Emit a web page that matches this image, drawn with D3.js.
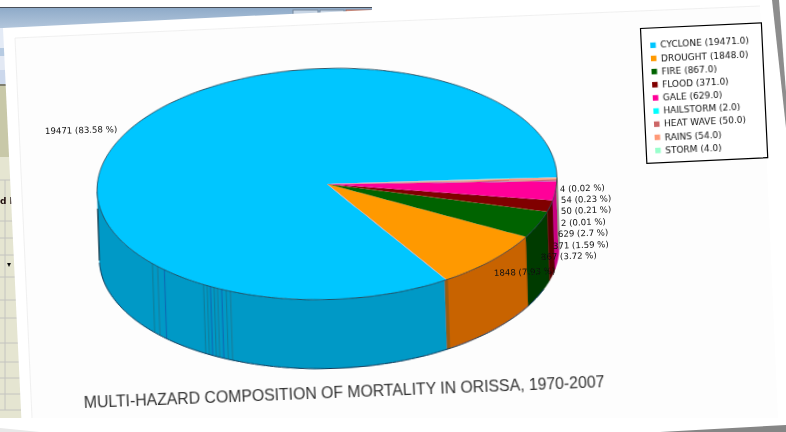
<!DOCTYPE html>
<html>
<head>
<meta charset="utf-8">
<style>
html, body { margin: 0; padding: 0; background: #fff; overflow: hidden; }
text { font-family: "DejaVu Sans", sans-serif; }
</style>
<script src="https://cdn.jsdelivr.net/npm/d3@7"></script>
</head>
<body>
<div id="chart"></div>
<script>
const categories = ['CYCLONE', 'DROUGHT', 'FIRE', 'FLOOD', 'GALE', 'HAILSTORM', 'HEAT WAVE', 'RAINS', 'STORM'];
const deaths = [19471, 1848, 867, 371, 629, 2, 50, 54, 4];
const percents = ['83.58', '7.93', '3.72', '1.59', '2.7', '0.01', '0.21', '0.23', '0.02'];
const topColors = ['#00c6ff', '#ff9900', '#006400', '#800000', '#ff0099', '#00ffff', '#cc6666', '#ff9977', '#99ffcc'];
const sideColors = ['#0099c6', '#c86400', '#003a00', '#560000', '#c80080', '#00c8c8', '#a04f4f', '#c87a5f', '#7ac8a0'];

// streaks on the cyclone wall, degrees clockwise from north
const streakAngles = [230.4, 228.4, 226, 213.4, 212.4, 211.4, 210.4, 209.4, 208.2, 207, 205.8];

const title = 'MULTI-HAZARD COMPOSITION OF MORTALITY IN ORISSA, 1970-2007';

const width = 786,
    height = 432,
    cx = 327,
    cy = 184,
    rx = 230,
    ry = 115.5,
    depth = 69,
    tilt = -1.9;

const rad = d3.scaleLinear().domain([0, 360]).range([0, 2 * Math.PI]);

const svg = d3.select('#chart')
    .append('svg')
    .attr('width', width)
    .attr('height', height);

const defs = svg.append('defs');
defs.append('filter').attr('id', 'soft')
    .append('feGaussianBlur').attr('stdDeviation', 0.3);
const header = defs.append('linearGradient').attr('id', 'header')
    .attr('x1', 0).attr('x2', 0).attr('y1', 0).attr('y2', 1);
header.append('stop').attr('offset', 0).attr('stop-color', '#8fabc9');
header.append('stop').attr('offset', 1).attr('stop-color', '#b9cbdf');

const polygon = (g, points, fill) => g.append('polygon')
    .attr('points', points.map(p => p.join(',')).join(' '))
    .attr('fill', fill);

// screenshot of the window lying behind the page
const backdrop = svg.append('g').attr('filter', 'url(#soft)');
backdrop.append('rect').attr('x', 0).attr('y', 7).attr('width', 372).attr('height', 1.5).attr('fill', '#4a5058');
backdrop.append('rect').attr('x', 0).attr('y', 8).attr('width', 372).attr('height', 24).attr('fill', 'url(#header)');
backdrop.append('rect').attr('x', 293).attr('y', 10).attr('width', 25).attr('height', 6).attr('fill', '#c8d6e6').attr('stroke', '#77889c');
backdrop.append('rect').attr('x', 320).attr('y', 10).attr('width', 24).attr('height', 6).attr('fill', '#c8d6e6').attr('stroke', '#77889c');
backdrop.append('rect').attr('x', 346).attr('y', 10).attr('width', 25).attr('height', 6).attr('fill', '#eba593').attr('stroke', '#a06a60');
backdrop.append('rect').attr('x', 0).attr('y', 28).attr('width', 20).attr('height', 20).attr('fill', '#e4ebf6');
backdrop.append('rect').attr('x', 0).attr('y', 48).attr('width', 20).attr('height', 8).attr('fill', '#b7cbe2');
backdrop.append('rect').attr('x', 0).attr('y', 56).attr('width', 20).attr('height', 14).attr('fill', '#e3e9f4');
backdrop.append('rect').attr('x', 0).attr('y', 70).attr('width', 20).attr('height', 14).attr('fill', '#ccd8ec');
backdrop.append('rect').attr('x', 0).attr('y', 84).attr('width', 20).attr('height', 2).attr('fill', '#7f7f70');
backdrop.append('rect').attr('x', 0).attr('y', 86).attr('width', 20).attr('height', 71).attr('fill', '#c8c8a8');
backdrop.append('rect').attr('x', 0).attr('y', 157).attr('width', 22).attr('height', 261).attr('fill', '#e5e5d1');
backdrop.append('g').selectAll('line')
    .data([180, 221, 238, 255, 277, 300, 318, 343, 362, 378, 394, 410])
    .join('line')
    .attr('x1', 0).attr('x2', 22).attr('y1', d => d).attr('y2', d => d)
    .attr('stroke', '#c4c4c0');
backdrop.append('line').attr('x1', 5).attr('x2', 5).attr('y1', 180).attr('y2', 410).attr('stroke', '#c4c4c0');
backdrop.append('text').attr('x', 0).attr('y', 204).attr('font-size', 9).attr('font-weight', 'bold').attr('fill', '#201010').text('d I');
backdrop.append('text').attr('x', 7).attr('y', 267).attr('font-size', 8).attr('font-weight', 'bold').attr('fill', '#111').text('▾');

// the page itself, photographed a little askew
polygon(svg, [[3, 28], [575, 0], [786, 0], [786, 432], [22, 432]], '#ffffff');
polygon(svg, [[15, 38], [760, 6], [778, 418], [32, 418]], '#fdfdfd');
svg.append('path')
    .attr('d', 'M32,418 L15,38 L372,22 L760,6')
    .attr('fill', 'none')
    .attr('stroke', '#ececec')
    .attr('stroke-width', 0.8);
polygon(svg, [[772, 0], [779, 0], [786, 92], [786, 128]], '#8d8d8d');
polygon(svg, [[660, 432], [786, 425], [786, 432]], '#868686');
polygon(svg, [[0, 428], [40, 432], [0, 432]], '#e8e8e8');

const startDeg = 90.5;
const slices = d3.pie()
    .sort(null)
    .value(d => d)
    .startAngle(rad(startDeg))
    .endAngle(rad(startDeg - 360))(deaths);

const ellipseX = a => rx * Math.sin(a),
    ellipseY = a => -ry * Math.cos(a);

const plot = svg.append('g')
    .attr('transform', `translate(${cx},${cy}) rotate(${tilt})`)
    .attr('filter', 'url(#soft)');

const rimLine = d3.line().x(d => ellipseX(d)).y(d => ellipseY(d));

// wall between two angles, only the front half of the disc shows
const wallPath = (a0, a1) => {
    const from = Math.max(Math.min(a0, a1), rad(90)),
        to = Math.min(Math.max(a0, a1), rad(270));
    if (to <= from) return null;
    const steps = d3.range(from, to, rad(1)).concat([to]);
    const top = steps.map(a => [ellipseX(a), ellipseY(a)]),
        bottom = steps.slice().reverse().map(a => [ellipseX(a), ellipseY(a) + depth]);
    return d3.line()(top.concat(bottom)) + 'Z';
};

// d3.pie runs anticlockwise here, so fold the angles back into 0..360
const wrap = a => (a < 0 ? a + 2 * Math.PI : a);
const walls = slices.map((s, i) => {
    let a0 = wrap(s.endAngle), a1 = wrap(s.startAngle);
    if (a0 > a1) a1 += 2 * Math.PI;
    return { d: wallPath(a0, a1), fill: sideColors[i] };
}).filter(d => d.d);

plot.append('g').selectAll('path')
    .data(walls)
    .join('path')
    .attr('d', d => d.d)
    .attr('fill', d => d.fill)
    .attr('stroke', d => d.fill)
    .attr('stroke-width', 0.4);

plot.append('g').selectAll('line')
    .data(streakAngles)
    .join('line')
    .attr('x1', d => ellipseX(rad(d)))
    .attr('x2', d => ellipseX(rad(d)))
    .attr('y1', d => ellipseY(rad(d)))
    .attr('y2', d => ellipseY(rad(d)) + depth)
    .attr('stroke', (d, i) => (i % 3 === 2 ? '#0a6cb4' : '#0f7f9e'))
    .attr('stroke-width', 1.2);

// darker edge where the drought wall meets the cyclone wall
plot.append('path')
    .attr('d', wallPath(rad(149.2), rad(150.2)))
    .attr('fill', '#9a5a10');

// front and left outline of the wall
plot.append('path')
    .attr('d', d3.line().x(d => ellipseX(d)).y(d => ellipseY(d) + depth)(d3.range(rad(112), rad(270), rad(1))))
    .attr('fill', 'none')
    .attr('stroke', '#123a5a')
    .attr('stroke-width', 1);
plot.append('line')
    .attr('x1', ellipseX(rad(270))).attr('x2', ellipseX(rad(270)))
    .attr('y1', 17).attr('y2', depth)
    .attr('stroke', '#0c2c3c')
    .attr('stroke-width', 1.2);

// top face: circular arcs squeezed into the ellipse
const arc = d3.arc().innerRadius(0).outerRadius(rx);
plot.append('g')
    .attr('transform', `scale(1,${ry / rx})`)
    .selectAll('path')
    .data(slices)
    .join('path')
    .attr('d', arc)
    .attr('fill', (d, i) => topColors[i]);

plot.append('path')
    .attr('d', rimLine(d3.range(0, 2 * Math.PI + 0.01, rad(1))) + 'Z')
    .attr('fill', 'none')
    .attr('stroke', '#1c3442')
    .attr('stroke-width', 0.8);

// slice labels sit in a spread-out stack, as the charting tool places them
const labelSpots = {
    CYCLONE: [45, 134, -1.5],
    DROUGHT: [494, 276, -2],
    FIRE: [541, 260, -2],
    FLOOD: [553, 249, -2],
    GALE: [558, 237, -2],
    HAILSTORM: [561, 226, -2],
    'HEAT WAVE': [561, 214, -2],
    RAINS: [561, 203, -2],
    STORM: [560, 192, -2]
};

svg.append('g')
    .attr('filter', 'url(#soft)')
    .selectAll('text')
    .data(categories)
    .join('text')
    .attr('transform', d => `translate(${labelSpots[d][0]},${labelSpots[d][1]}) rotate(${labelSpots[d][2]})`)
    .attr('font-size', 8.6)
    .attr('fill', '#111')
    .text((d, i) => `${deaths[i]} (${percents[i]} %)`);

// legend box
const legend = svg.append('g')
    .attr('transform', 'translate(640.5,28.5) rotate(-2.7)');
legend.append('rect')
    .attr('width', 121)
    .attr('height', 135)
    .attr('fill', '#fff')
    .attr('stroke', '#000')
    .attr('stroke-width', 1.2);
const row = d3.scaleBand().domain(categories).range([10.5, 129]);
const rows = legend.append('g')
    .attr('filter', 'url(#soft)')
    .selectAll('g')
    .data(categories)
    .join('g')
    .attr('transform', d => `translate(0,${row(d) + row.bandwidth() / 2})`);
rows.append('rect')
    .attr('x', 9)
    .attr('y', -2.5)
    .attr('width', 5.5)
    .attr('height', 5.5)
    .attr('fill', (d, i) => topColors[i]);
rows.append('text')
    .attr('x', 19)
    .attr('y', 3.4)
    .attr('font-size', 9)
    .attr('fill', '#111')
    .text((d, i) => `${d} (${deaths[i]}.0)`);

svg.append('text')
    .attr('transform', 'translate(84,408) rotate(-2.3)')
    .style('font-family', '"Liberation Sans", sans-serif')
    .attr('font-size', 17)
    .attr('fill', '#333')
    .attr('textLength', 521)
    .attr('lengthAdjust', 'spacingAndGlyphs')
    .attr('filter', 'url(#soft)')
    .text(title);
</script>
</body>
</html>
